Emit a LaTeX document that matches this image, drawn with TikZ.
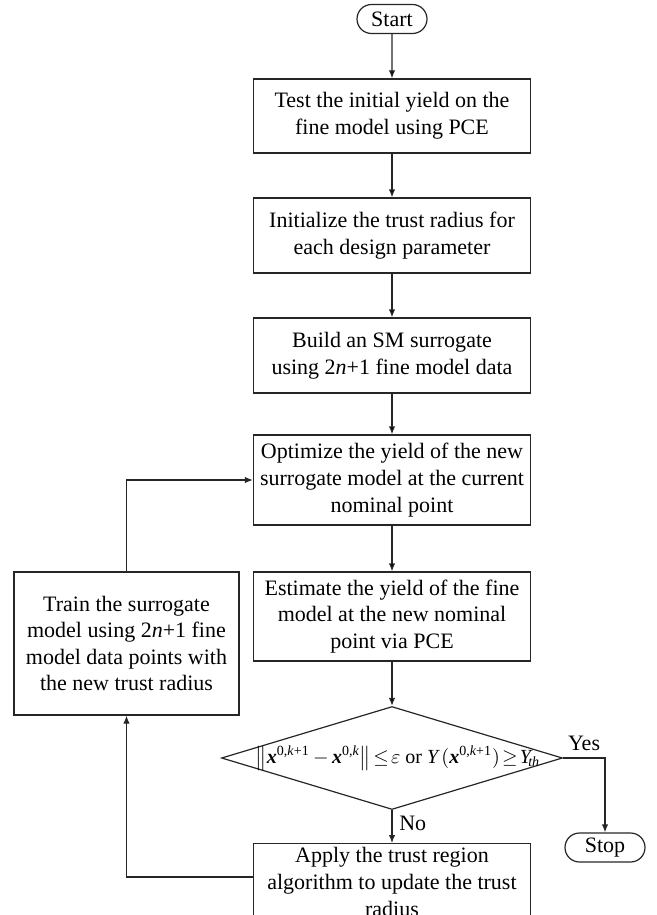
\documentclass[tikz,border=0pt]{standalone}
\usepackage{amsmath,amssymb}
\usepackage{fontspec}
\setmainfont{Liberation Serif}
\usetikzlibrary{shapes,arrows.meta,positioning}
\tikzset{
     box node/.style={draw=black!85, rectangle, align=center, minimum width=138.5pt, inner sep=2pt},
     term node/.style={draw=black!85, rounded rectangle, minimum height=14.5pt, inner sep=1pt},
     cond node/.style={draw=black!85, diamond, inner sep=0pt, minimum width=170.5pt, minimum height=51.5pt},
     flowedge/.style={draw=black!85, ->, >={Latex[length=4pt,width=3.2pt]}},
    }
\newcommand{\bx}{\textbf{\textit{x}}}
\newcommand{\supa}{^{\text{0,\textit{k}+1}}}
\newcommand{\supb}{^{\text{0,\textit{k}}}}

\begin{document}
\begin{tikzpicture}[on grid, line width=0.6pt, font=\fontsize{11pt}{13.3pt}\selectfont]
        \useasboundingbox (0,0) rectangle (328.5pt,-457.5pt);
        \node [term node, minimum width=37pt] (start) at (196pt,-9.5pt) {Start};
        \node [box node, minimum height=37pt] (test) [below=48.5pt of start]
              {Test the initial yield on the\\fine model using PCE};
        \node [box node, minimum height=37.5pt] (init) [below=59.75pt of test]
              {Initialize the trust radius for\\each design parameter};
        \node [box node, minimum height=37.5pt] (build) [below=60pt of init]
              {Build an SM surrogate\\using 2\textit{n}+1 fine model data};
        \node [box node, minimum height=45pt] (opt) [below=62.25pt of build]
              {Optimize the yield of the new\\surrogate model at the current\\nominal point};
        \node [box node, minimum height=44.5pt] (est) [below=68.25pt of opt]
              {Estimate the yield of the fine\\model at the new nominal\\point via PCE};
        \node [cond node] (dia) [below=70.75pt of est]
              {\makebox[0pt]{\hspace{6pt}\fontsize{10pt}{12pt}\selectfont
               \medmuskip=3mu \thickmuskip=2mu
               $\left\|\bx\supa-\bx\supb\right\|\le\varepsilon$ or $\textit{Y}\,(\bx\supa)\ge\textit{Y}_{\!\text{\textit{th}}}$}};
        \node [box node] (apply) [below=62pt of dia]
              {Apply the trust region\\algorithm to update the trust\\radius};
        \node [box node, minimum width=112.5pt, minimum height=71.5pt] (train) [below left=13.5pt and 132.75pt of est]
              {Train the surrogate\\model using 2\textit{n}+1 fine\\model data points with\\the new trust radius};
        \node [term node, minimum width=42pt] (stop) [below right=44.75pt and 106.5pt of dia] {Stop};
        \path[flowedge]
        (start) edge (test)
        (test) edge (init)
        (init) edge (build)
        (build) edge (opt)
        (opt) edge (est)
        (est) edge (dia);
        \draw[flowedge] (dia.south) -- node[right, pos=0.4] {No} (apply.north);
        \draw[flowedge] (dia.east) -| node[above, pos=0.25] {Yes} (stop.north);
        \draw[flowedge] ([yshift=2.5pt]apply.west) -| (train.south);
        \draw[flowedge] (train.north) |- (opt.west);
    \end{tikzpicture}
\end{document}
